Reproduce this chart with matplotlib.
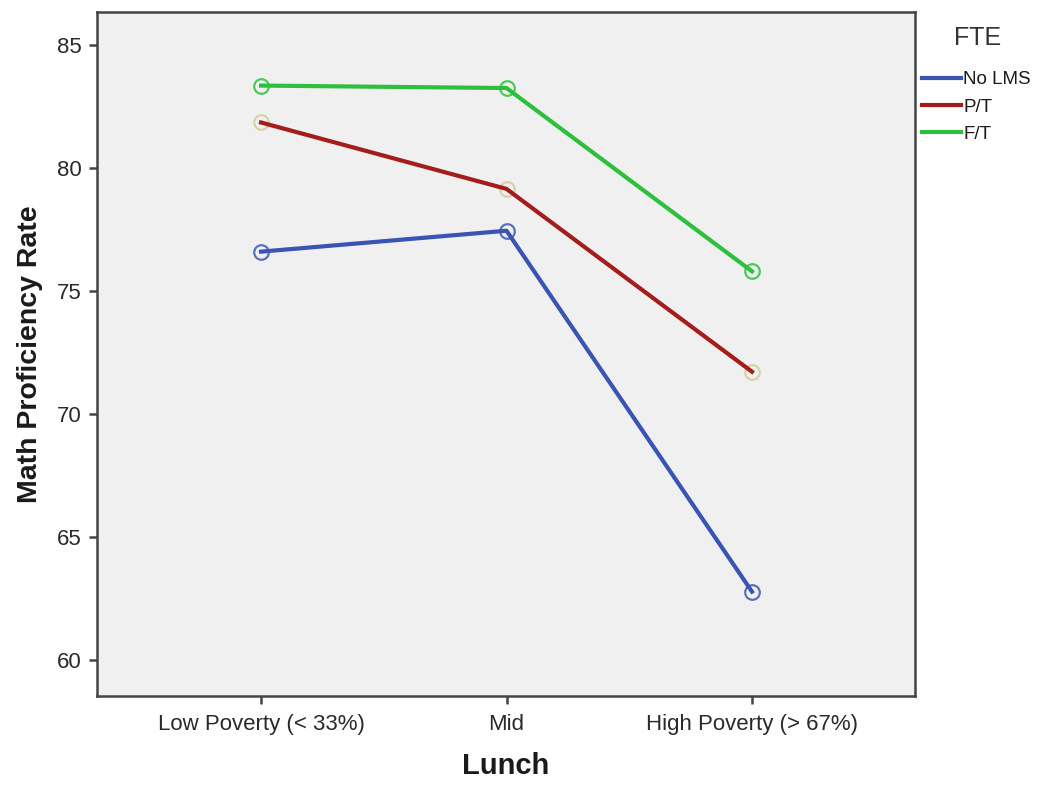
import matplotlib
matplotlib.use("Agg")
import matplotlib.pyplot as plt

plt.rcParams["font.family"] = ["Liberation Sans", "DejaVu Sans"]

CATEGORIES = ["Low Poverty (< 33%)", "Mid", "High Poverty (> 67%)"]
SERIES = ["No LMS", "P/T", "F/T"]
NO_LMS = [76.6, 77.45, 62.78]
PT = [81.85, 79.15, 71.72]
FT = [83.35, 83.25, 75.8]
Y_TICKS = [60, 65, 70, 75, 80, 85]

LINE_COLORS = ["#3a54b4", "#a51c1c", "#2fbf3e"]
MARKER_COLORS = ["#5a6fc0", "#d9d2a6", "#4cc95a"]


def main():
    fig = plt.figure(figsize=(10.4, 7.85), dpi=100)
    ax = fig.add_axes([0.0933, 0.1134, 0.7865, 0.8713])
    ax.set_facecolor("#f0f0f0")

    x = list(range(len(CATEGORIES)))
    for name, vals, lc, mc in zip(SERIES, [NO_LMS, PT, FT], LINE_COLORS, MARKER_COLORS):
        ax.plot(x, vals, linestyle="none", marker="o", markersize=10.5,
                markerfacecolor="none", markeredgecolor=mc, markeredgewidth=1.6, zorder=2)
        ax.plot(x, vals, color=lc, linewidth=3, label=name, zorder=3)

    ax.set_xlim(-0.668, 2.664)
    ax.set_ylim(58.54, 86.34)
    ax.set_xticks(x)
    ax.set_xticklabels(CATEGORIES, fontsize=16, color="#2a2a2a")
    ax.set_yticks(Y_TICKS)
    ax.set_yticklabels([str(v) for v in Y_TICKS], fontsize=16, color="#2a2a2a")
    ax.tick_params(axis="both", length=6, width=1.8, color="#444444", pad=5)
    ax.tick_params(axis="x", pad=7)

    for s in ax.spines.values():
        s.set_color("#444444")
        s.set_linewidth(1.8)

    ax.set_xlabel("Lunch", fontsize=21, fontweight="bold", color="#1a1a1a", labelpad=12)
    ax.set_ylabel("Math Proficiency Rate", fontsize=20.5, fontweight="bold", color="#1a1a1a", labelpad=10)

    # legend title placed on its own, entries below it
    fig.text(0.94, 0.951, "FTE", fontsize=18, color="#333333", ha="center", va="center")
    leg = fig.legend(loc="upper left", bbox_to_anchor=(0.870, 0.931), frameon=False,
                     fontsize=13.5, handlelength=2.1, handletextpad=0.12, labelspacing=0.55)
    for t in leg.get_texts():
        t.set_color("#1a1a1a")

    fig.savefig("out.png", dpi=100)
    plt.close(fig)


if __name__ == "__main__":
    main()
